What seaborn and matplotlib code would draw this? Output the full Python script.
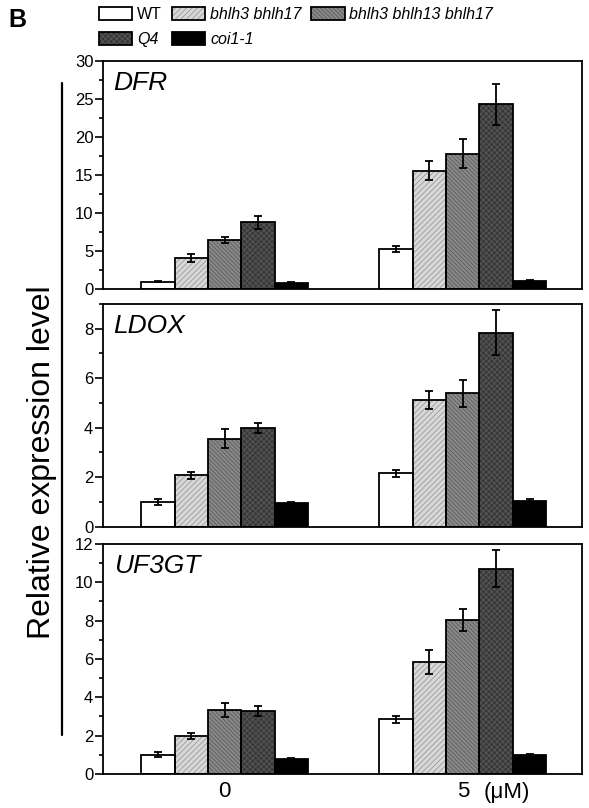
import matplotlib
matplotlib.use("Agg")
import matplotlib.pyplot as plt
import seaborn as sns
import pandas as pd
from matplotlib.patches import Patch, Rectangle
from matplotlib.lines import Line2D
from matplotlib.legend_handler import HandlerTuple
from matplotlib.ticker import MultipleLocator

# ==============================
# DATA
# ==============================
genotypes = ["WT", "bhlh3 bhlh17", "bhlh3 bhlh13 bhlh17", "Q4", "coi1-1"]
doses = ["0", "5"]

dfr_0 = [1.0, 4.1, 6.5, 8.8, 0.88]
dfr_0_err = [0.1, 0.5, 0.4, 0.85, 0.05]
dfr_5 = [5.3, 15.6, 17.8, 24.3, 1.14]
dfr_5_err = [0.45, 1.3, 1.9, 2.7, 0.1]

ldox_0 = [1.0, 2.08, 3.56, 3.99, 0.95]
ldox_0_err = [0.12, 0.15, 0.38, 0.21, 0.05]
ldox_5 = [2.16, 5.12, 5.39, 7.84, 1.06]
ldox_5_err = [0.15, 0.36, 0.54, 0.89, 0.07]

uf3gt_0 = [1.01, 1.97, 3.34, 3.28, 0.78]
uf3gt_0_err = [0.13, 0.15, 0.37, 0.28, 0.04]
uf3gt_5 = [2.86, 5.84, 8.05, 10.71, 1.01]
uf3gt_5_err = [0.19, 0.61, 0.57, 0.97, 0.05]

genes = ["DFR", "LDOX", "UF3GT"]
means = {"DFR": (dfr_0, dfr_5), "LDOX": (ldox_0, ldox_5), "UF3GT": (uf3gt_0, uf3gt_5)}
errs = {"DFR": (dfr_0_err, dfr_5_err), "LDOX": (ldox_0_err, ldox_5_err),
        "UF3GT": (uf3gt_0_err, uf3gt_5_err)}
ylims = {"DFR": (30, 5, 2.5), "LDOX": (9, 2, 1), "UF3GT": (12, 2, 1)}

# ==============================
# STYLE
# ==============================
sns.set_theme(style="ticks")
plt.rcParams["font.family"] = ["Liberation Sans", "DejaVu Sans"]
plt.rcParams["hatch.linewidth"] = 0.6
for key in ["text.color", "axes.labelcolor", "xtick.color", "ytick.color", "axes.edgecolor"]:
    plt.rcParams[key] = "black"

face = ["white", "#d8d8d8", "#8a8a8a", "#383838", "black"]
hatch_col = ["white", "#9a9a9a", "#5a5a5a", "#585858", "black"]
hatches = ["", "//////", "\\\\\\\\\\\\\\\\", "xxxxxx", ""]

fig = plt.figure(figsize=(5.89, 8.08), dpi=100)
positions = [
    [0.175, 0.642, 0.813, 0.2825],
    [0.175, 0.348, 0.813, 0.276],
    [0.175, 0.042, 0.813, 0.285],
]

for gi, gene in enumerate(genes):
    ax = fig.add_axes(positions[gi])
    rows = []
    for di, dose in enumerate(doses):
        for k, g in enumerate(genotypes):
            rows.append({"dose": dose, "genotype": g, "value": means[gene][di][k],
                         "err": errs[gene][di][k]})
    df = pd.DataFrame(rows)
    sns.barplot(data=df, x="dose", y="value", hue="genotype", hue_order=genotypes,
                order=doses, width=0.7, errorbar=None, legend=False, ax=ax)

    bar_conts = list(ax.containers)
    for k, cont in enumerate(bar_conts):
        for di, bar in enumerate(cont):
            bar.set_facecolor(face[k])
            bar.set_edgecolor(hatch_col[k])
            bar.set_hatch(hatches[k])
            bar.set_linewidth(0)
            ax.add_patch(Rectangle(bar.get_xy(), bar.get_width(), bar.get_height(),
                                   fill=False, edgecolor="black", linewidth=1.3, zorder=3))
            xc = bar.get_x() + bar.get_width() / 2
            ax.errorbar(xc, bar.get_height(), yerr=errs[gene][di][k], color="black",
                        elinewidth=1.3, capsize=3, capthick=1.3, zorder=4)

    top, major, minor = ylims[gene]
    ax.set_ylim(0, top)
    ax.set_xlim(-0.51, 1.5)
    ax.yaxis.set_major_locator(MultipleLocator(major))
    ax.yaxis.set_minor_locator(MultipleLocator(minor))
    ax.tick_params(axis="y", which="major", length=6, width=1.2, labelsize=12, pad=1,
                   direction="out")
    ax.tick_params(axis="y", which="minor", length=3, width=1.2, direction="out")
    ax.tick_params(axis="x", length=0, labelsize=16, pad=5)
    for s in ax.spines.values():
        s.set_linewidth(1.3)
        s.set_color("black")
    ax.set_xlabel("")
    ax.set_ylabel("")
    ax.text(0.022, 0.955, gene, transform=ax.transAxes, ha="left", va="top",
            fontsize=19, style="italic")
    if gi < 2:
        ax.set_xticklabels([])
    else:
        ax.set_xticklabels(doses)
        ax.annotate("(μM)", xy=(1, 0), xycoords=("data", "axes fraction"),
                    xytext=(15, -6), textcoords="offset points", ha="left", va="top",
                    fontsize=16)

# ==============================
# LEGEND, LABELS
# ==============================
handles = []
for k in range(len(genotypes)):
    fill_patch = Patch(facecolor=face[k], edgecolor=hatch_col[k], hatch=hatches[k],
                       linewidth=0)
    edge_patch = Patch(facecolor="none", edgecolor="black", linewidth=1.3)
    handles.append((fill_patch, edge_patch))
order = [0, 3, 1, 4, 2]
leg = fig.legend([handles[i] for i in order], [genotypes[i] for i in order],
                 handler_map={tuple: HandlerTuple(ndivide=1)},
                 loc="upper left", bbox_to_anchor=(0.149, 1.005), ncol=3, frameon=False,
                 fontsize=11.5, handlelength=2.1, handleheight=0.9, handletextpad=0.3,
                 columnspacing=0.6, labelspacing=0.6, borderpad=0.2)
for t in leg.get_texts():
    if t.get_text() != "WT":
        t.set_style("italic")

fig.text(0.015, 0.99, "B", fontsize=18, fontweight="bold", ha="left", va="top")
fig.text(0.071, 0.428, "Relative expression level", rotation=90, fontsize=23,
         ha="center", va="center")
fig.add_artist(Line2D([0.106, 0.106], [0.8975, 0.0903], transform=fig.transFigure,
                      color="black", linewidth=1.6))

fig.savefig("out.png", dpi=100)
